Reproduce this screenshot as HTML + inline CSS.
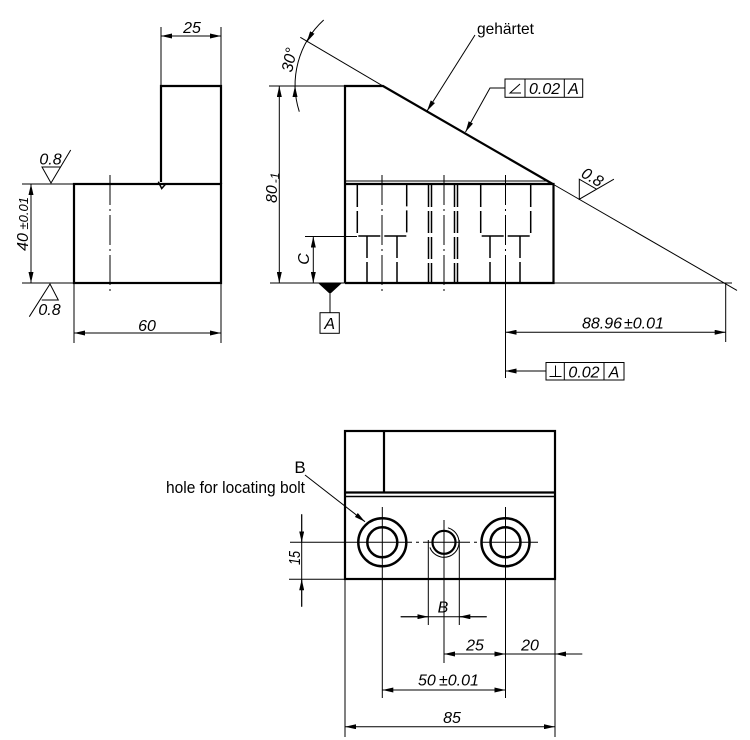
<!DOCTYPE html>
<html><head><meta charset="utf-8"><style>
html,body{margin:0;padding:0;background:#fff;}
svg{display:block;}
text{font-family:"Liberation Sans",sans-serif;fill:#000;stroke:none;}
.d{font-style:italic;font-size:16px;}
</style></head><body>
<svg width="750" height="740" viewBox="0 0 750 740" xmlns="http://www.w3.org/2000/svg">
<defs>
<marker id="a" viewBox="0 0 11 5" refX="11" refY="2.5" markerWidth="11" markerHeight="5" markerUnits="userSpaceOnUse" orient="auto-start-reverse"><path d="M0,0L11,2.5L0,5z" fill="#000" stroke="none"/></marker>
</defs>
<rect x="0" y="0" width="750" height="740" fill="#fff"/>

<!-- THICK OUTLINES -->
<g fill="none" stroke="#000" stroke-width="2.2">
  <!-- left view -->
  <rect x="74" y="184" width="147" height="99"/>
  <path d="M161,182 V86 H221 V184"/>
  <!-- main view -->
  <path d="M345,283 V86 H383 L552.7,184"/>
  <path d="M345,184 H553.5 V283 H345"/>
  <!-- bottom view -->
  <rect x="345" y="431" width="210" height="148"/>
  <line x1="384" y1="431" x2="384" y2="492.5"/>
  <line x1="345" y1="492.5" x2="555" y2="492.5"/>
</g>
<path d="M158.3,181.7 L161.7,188.5 L165.7,184" fill="none" stroke="#000" stroke-width="1.5"/>
<line x1="345" y1="496.5" x2="555" y2="496.5" stroke="#000" stroke-width="1.5"/>
<g fill="none" stroke="#000" stroke-width="2.5">
  <circle cx="382.3" cy="542.3" r="24"/>
  <circle cx="382.3" cy="542.3" r="15"/>
  <circle cx="505.5" cy="542.3" r="24"/>
  <circle cx="505.5" cy="542.3" r="15"/>
  <circle cx="444" cy="542.3" r="11.5" stroke-width="2.2"/>
</g>

<!-- HIDDEN LINES -->
<g fill="none" stroke="#000" stroke-width="1.5" stroke-dasharray="22 4">
  <path d="M357.3,185 V236 H406.7 V185"/>
  <path d="M367,236 V283 M397,236 V283"/>
  <path d="M480.7,185 V236 H530.7 V185"/>
  <path d="M490,236 V283 M520,236 V283"/>
  <path d="M428.5,185 V283 M431.5,185 V283 M454.5,185 V283 M457.5,185 V283"/>
</g>

<!-- CENTER LINES -->
<g fill="none" stroke="#000" stroke-width="1" stroke-dasharray="30 4 2 4">
  <line x1="110" y1="175" x2="110" y2="293"/>
  <line x1="382" y1="175" x2="382" y2="292"/>
  <line x1="444" y1="175" x2="444" y2="292"/>
  <line x1="505.5" y1="175" x2="505.5" y2="283"/>
</g>

<!-- THIN LINES -->
<g fill="none" stroke="#000" stroke-width="1">
  <!-- left view dims -->
  <line x1="161" y1="27" x2="161" y2="86"/>
  <line x1="221" y1="27" x2="221" y2="86"/>
  <line x1="161" y1="36" x2="221" y2="36" marker-start="url(#a)" marker-end="url(#a)"/>
  <line x1="22" y1="184" x2="74" y2="184"/>
  <line x1="22" y1="283" x2="74" y2="283"/>
  <line x1="31" y1="184" x2="31" y2="283" marker-start="url(#a)" marker-end="url(#a)"/>
  <path d="M70.7,150 L51,183 L42,167 H60.5"/>
  <path d="M29.3,316.7 L50,284 L58.3,300 H41.7"/>
  <line x1="74" y1="283" x2="74" y2="343"/>
  <line x1="221" y1="283" x2="221" y2="343"/>
  <line x1="74" y1="333" x2="221" y2="333" marker-start="url(#a)" marker-end="url(#a)"/>

  <!-- main view -->
  <line x1="345" y1="181" x2="547.5" y2="181"/>
  <line x1="269" y1="86" x2="345" y2="86"/>
  <line x1="270" y1="283" x2="345" y2="283"/>
  <line x1="553.5" y1="283" x2="732" y2="283"/>
  <line x1="300.3" y1="37.3" x2="383" y2="86"/>
  <line x1="552.7" y1="184" x2="737" y2="290.4"/>
  <line x1="505.5" y1="283" x2="505.5" y2="378"/>
  <line x1="305" y1="236.5" x2="357" y2="236.5"/>
  <line x1="313.3" y1="236.5" x2="313.3" y2="283" marker-start="url(#a)" marker-end="url(#a)"/>
  <line x1="279.3" y1="86" x2="279.3" y2="283" marker-start="url(#a)" marker-end="url(#a)"/>
  <path d="M299.3,111.7 A88,88 0 0 1 323.7,20"/>
  <line x1="312.3" y1="32.5" x2="306.8" y2="42" marker-end="url(#a)"/>
  <line x1="295" y1="97" x2="295" y2="86" marker-end="url(#a)"/>
  <line x1="475" y1="35" x2="427" y2="111" marker-end="url(#a)"/>
  <rect x="505" y="79" width="77.7" height="18.3"/>
  <line x1="525" y1="79" x2="525" y2="97.3"/>
  <line x1="564.3" y1="79" x2="564.3" y2="97.3"/>
  <path d="M521,93 H510 L520,84"/>
  <polyline points="505,88 490,88 465.5,132" marker-end="url(#a)"/>
  <path d="M613.9,179.2 L579.3,199.2 V179.2 L596.6,189.2"/>
  <line x1="725.7" y1="283" x2="725.7" y2="342"/>
  <line x1="505.5" y1="332.3" x2="725.7" y2="332.3" marker-start="url(#a)" marker-end="url(#a)"/>
  <rect x="546" y="362.5" width="78" height="17.5"/>
  <line x1="564.3" y1="362.5" x2="564.3" y2="380"/>
  <line x1="604" y1="362.5" x2="604" y2="380"/>
  <path d="M549.5,376.5 H561.5 M555.5,376.5 V365.5"/>
  <line x1="546" y1="371" x2="505.5" y2="371" marker-end="url(#a)"/>
  <line x1="330" y1="294" x2="330" y2="312.7"/>
  <rect x="320" y="312.7" width="19.3" height="20.6"/>

  <!-- bottom view -->
  <path d="M429.9,547.4 A15,15 0 1 0 447.9,527.8"/>
  <path d="M290,542.3 H412 M416,542.3 H419 M423,542.3 H470 M474,542.3 H477 M481,542.3 H538"/>
  <line x1="382.3" y1="507" x2="382.3" y2="698"/>
  <line x1="505.5" y1="507" x2="505.5" y2="698"/>
  <line x1="444" y1="520" x2="444" y2="663"/>
  <line x1="428.3" y1="540" x2="428.3" y2="625"/>
  <line x1="459.3" y1="540" x2="459.3" y2="625"/>
  <line x1="400.7" y1="616.7" x2="486.7" y2="616.7"/>
  <line x1="400.7" y1="616.7" x2="428.3" y2="616.7" marker-end="url(#a)"/>
  <line x1="486.7" y1="616.7" x2="459.3" y2="616.7" marker-end="url(#a)"/>
  <line x1="444" y1="654" x2="582.3" y2="654"/>
  <line x1="470" y1="654" x2="444" y2="654" marker-end="url(#a)"/>
  <line x1="480" y1="654" x2="505.5" y2="654" marker-end="url(#a)"/>
  <line x1="582" y1="654" x2="555" y2="654" marker-end="url(#a)"/>
  <line x1="382.3" y1="690" x2="505.5" y2="690" marker-start="url(#a)" marker-end="url(#a)"/>
  <line x1="345" y1="579" x2="345" y2="737"/>
  <line x1="555" y1="579" x2="555" y2="737"/>
  <line x1="345" y1="726.7" x2="555" y2="726.7" marker-start="url(#a)" marker-end="url(#a)"/>
  <line x1="289" y1="579.3" x2="345" y2="579.3"/>
  <line x1="301.7" y1="514.3" x2="301.7" y2="606.7"/>
  <line x1="301.7" y1="514.3" x2="301.7" y2="542.3" marker-end="url(#a)"/>
  <line x1="301.7" y1="606.7" x2="301.7" y2="579.3" marker-end="url(#a)"/>
  <line x1="305" y1="475" x2="365" y2="521.7" marker-end="url(#a)"/>
</g>
<polygon points="318.3,283.3 341.7,283.3 330,294" fill="#000"/>

<!-- TEXT -->
<text class="d" x="192" y="33" text-anchor="middle">25</text>
<text class="d" x="147" y="331" text-anchor="middle">60</text>
<text class="d" x="50.5" y="164.5" text-anchor="middle">0.8</text>
<text class="d" x="49.5" y="315" text-anchor="middle">0.8</text>
<text class="d" transform="translate(28,224) rotate(-90)" text-anchor="middle">40<tspan font-size="13"> ±0.01</tspan></text>
<text class="d" transform="translate(309,259) rotate(-90)" text-anchor="middle">C</text>
<text class="d" transform="translate(277,203) rotate(-90)">80<tspan font-size="12" dx="2" dy="2">-1</tspan></text>
<text class="d" transform="translate(294.5,61) rotate(-78)" text-anchor="middle">30°</text>
<text x="477" y="34" font-size="16" textLength="57" lengthAdjust="spacingAndGlyphs">gehärtet</text>
<text class="d" x="544.6" y="94" text-anchor="middle">0.02</text>
<text class="d" x="573.5" y="94" text-anchor="middle">A</text>
<text class="d" transform="translate(588.5,184) rotate(30)" x="0" y="-2.5" text-anchor="middle">0.8</text>
<text class="d" x="582" y="328.5">88.96</text>
<text class="d" x="624" y="328.5" font-size="11">±0.01</text>
<text class="d" x="584" y="377.5" text-anchor="middle">0.02</text>
<text class="d" x="614" y="377.5" text-anchor="middle">A</text>
<text class="d" x="329.7" y="329" text-anchor="middle">A</text>

<text x="300" y="473" font-size="17" text-anchor="middle">B</text>
<text x="166" y="493" font-size="17" textLength="139" lengthAdjust="spacingAndGlyphs">hole for locating bolt</text>
<text class="d" transform="translate(300,558) rotate(-90)" text-anchor="middle" textLength="14" lengthAdjust="spacingAndGlyphs">15</text>
<text class="d" x="443" y="612.5" text-anchor="middle">B</text>
<text class="d" x="475" y="650.5" text-anchor="middle">25</text>
<text class="d" x="530" y="650.5" text-anchor="middle">20</text>
<text class="d" x="418" y="685.5">50</text>
<text class="d" x="439" y="685.5" font-size="11">±0.01</text>
<text class="d" x="452" y="723" text-anchor="middle">85</text>
</svg>
</body></html>
